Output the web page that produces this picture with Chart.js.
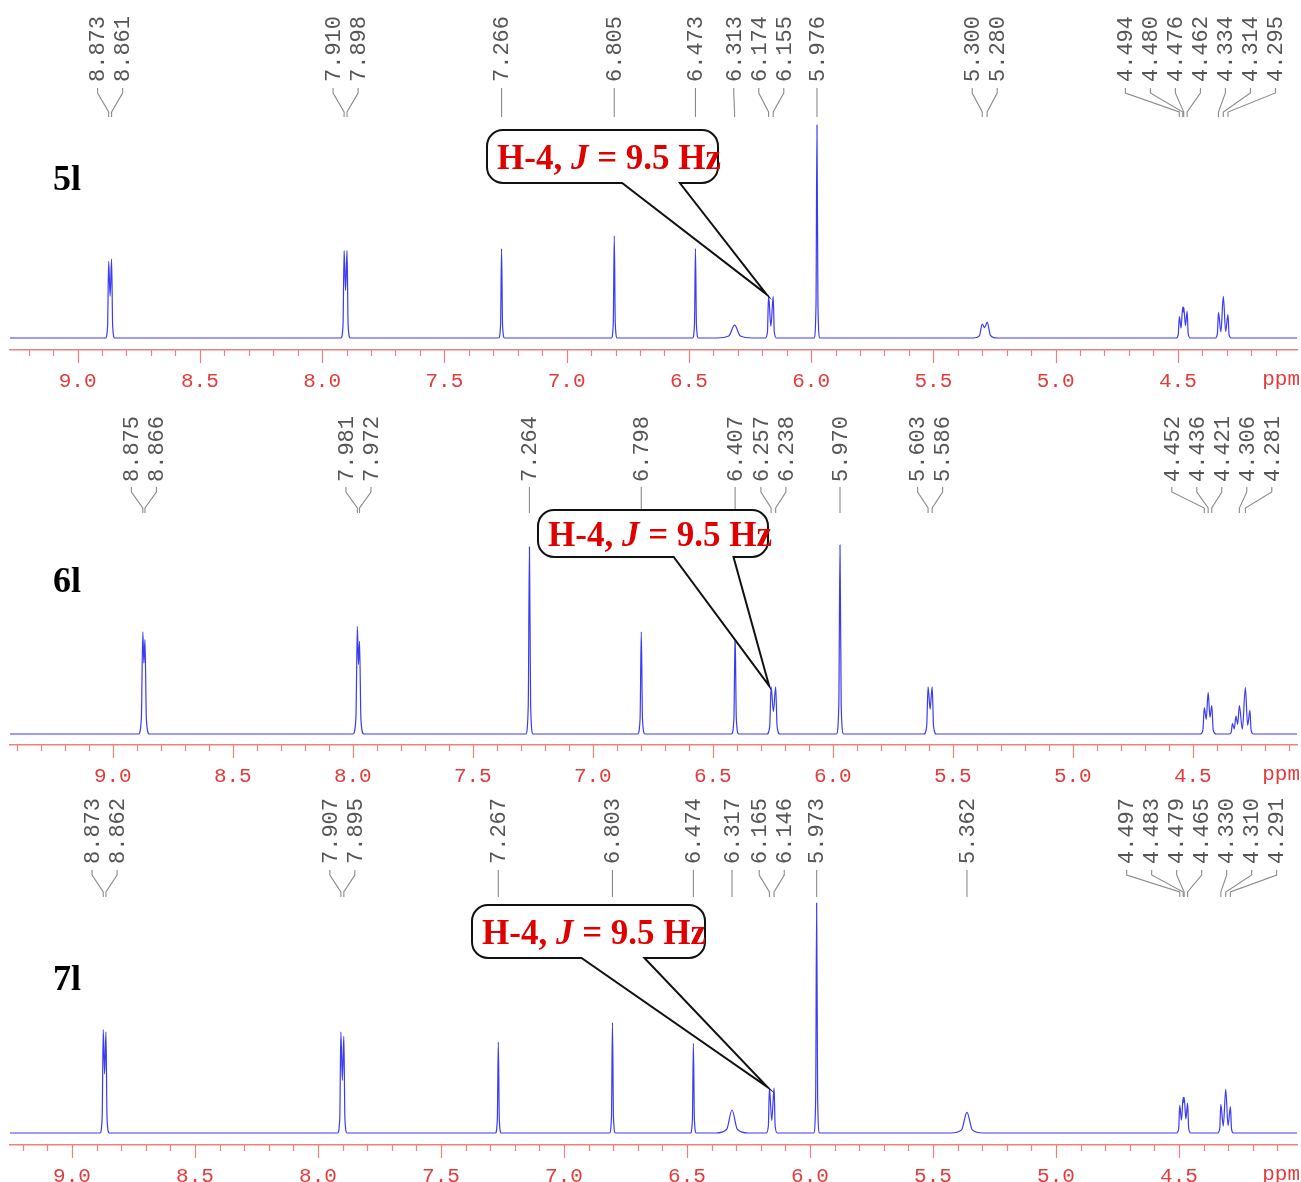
<!DOCTYPE html>
<html>
<head>
<meta charset="utf-8">
<script src="https://cdn.jsdelivr.net/npm/chart.js@4.4.1/dist/chart.umd.min.js"></script>
<style>
  body { margin: 0; background: #fff; width: 1301px; height: 1182px; overflow: hidden; position: relative; }
  canvas { position: absolute; left: 0; }
</style>
</head>
<body>
<canvas id="c5l"></canvas>
<canvas id="c6l"></canvas>
<canvas id="c7l"></canvas>
<script>
// 1H NMR, 5l / 6l / 7l (ppm, relative intensity, half-width in ppm)
const shifts5l = [8.873, 8.861, 7.910, 7.898, 7.266, 6.805, 6.473, 6.313, 6.174, 6.155, 5.976, 5.300, 5.280, 4.494, 4.480, 4.476, 4.462, 4.334, 4.314, 4.295];
const heights5l = [36, 37, 41, 41, 42, 48, 42, 6, 20, 19.5, 100, 6.5, 7.5, 10, 14.5, 14.5, 12.5, 12, 19.5, 11];
const widths5l = [.0022, .0022, .0022, .0022, .002, .002, .002, .012, .0022, .0022, .002, .006, .007, .0022, .0022, .0022, .0022, .0022, .0022, .0022];
const picks5l = [8.873, 8.861, 7.910, 7.898, 7.266, 6.805, 6.473, 6.313, 6.174, 6.155, 5.976, 5.300, 5.280, 4.494, 4.480, 4.476, 4.462, 4.334, 4.314, 4.295];

const shifts6l = [8.875, 8.866, 7.981, 7.972, 7.264, 6.798, 6.407, 6.257, 6.238, 5.970, 5.603, 5.586, 4.452, 4.436, 4.421, 4.335, 4.320, 4.306, 4.281, 4.262];
const heights6l = [54, 50, 57, 49, 99, 54, 53.5, 25, 25, 100, 25, 25, 14, 22, 15, 5.5, 9.5, 15, 24.5, 12.5];
const widths6l = [.003, .003, .003, .003, .0025, .0025, .0025, .003, .003, .0025, .003, .003, .003, .003, .003, .0025, .0025, .0025, .0025, .0025];
const picks6l = [8.875, 8.866, 7.981, 7.972, 7.264, 6.798, 6.407, 6.257, 6.238, 5.970, 5.603, 5.586, 4.452, 4.436, 4.421, 4.306, 4.281];

const shifts7l = [8.873, 8.862, 7.907, 7.895, 7.267, 6.803, 6.474, 6.317, 6.165, 6.146, 5.973, 5.362, 4.497, 4.483, 4.479, 4.465, 4.330, 4.310, 4.291];
const heights7l = [45, 44, 44, 42, 39.5, 48, 39, 10, 19.5, 19.5, 100, 9, 12, 15.5, 15.5, 13, 12.5, 19, 11.5];
const widths7l = [.0022, .0022, .0022, .0022, .002, .002, .002, .011, .0022, .0022, .002, .011, .0022, .0022, .0022, .0022, .0022, .0022, .0022];
const picks7l = [8.873, 8.862, 7.907, 7.895, 7.267, 6.803, 6.474, 6.317, 6.165, 6.146, 5.973, 5.362, 4.497, 4.483, 4.479, 4.465, 4.330, 4.310, 4.291];

const SPEC_BLUE = '#3b3bf5';
const AXIS_RED = '#f08080';
const TICK_RED = '#e23c3c';
const CALLOUT = 'H-4, J = 9.5 Hz';

// layout of the three stacked panels (canvas-local pixels)
const panels = [
  { id: 'c5l', name: '5l', top: 0, height: 392, shifts: shifts5l, heights: heights5l, widths: widths5l, picks: picks5l, h4: 6.174,
    x9: 77.6, ppx: 244.5, axisY: 350, baseY: 338, peakTopY: 125, labelBottom: 82, bracketTop: 88, bracketBottom: 117, sampleY: 190,
    box: { l: 487, r: 718, t: 130, b: 183, tail: [0.585, 0.835] } },
  { id: 'c6l', name: '6l', top: 392, height: 394, shifts: shifts6l, heights: heights6l, widths: widths6l, picks: picks6l, h4: 6.257,
    x9: 112.8, ppx: 240, axisY: 353, baseY: 342, peakTopY: 153, labelBottom: 90, bracketTop: 95, bracketBottom: 121, sampleY: 200,
    box: { l: 538, r: 768, t: 118, b: 165, tail: [0.59, 0.85] } },
  { id: 'c7l', name: '7l', top: 786, height: 396, shifts: shifts7l, heights: heights7l, widths: widths7l, picks: picks7l, h4: 6.165,
    x9: 72, ppx: 246, axisY: 359, baseY: 347, peakTopY: 117, labelBottom: 78, bracketTop: 84, bracketBottom: 111, sampleY: 204,
    box: { l: 472, r: 705, t: 119, b: 172, tail: [0.47, 0.74] } }
];

// spectrum trace from the line list: skirts, tops and dips between close lines
function buildTrace(pos, ints, lws, lo, hi) {
  const pk = pos.map((p, i) => ({ p, h: ints[i], w: lws[i] })).sort((a, b) => b.p - a.p);
  const clusters = [];
  pk.forEach(k => {
    const last = clusters[clusters.length - 1];
    const prev = last && last[last.length - 1];
    if (prev && prev.p - k.p <= 6 * (prev.w + k.w)) last.push(k); else clusters.push([k]);
  });
  const pts = [{ x: hi, y: 0 }];
  clusters.forEach(c => {
    const f = c[0], l = c[c.length - 1];
    pts.push({ x: f.p + 6 * f.w, y: 0 }, { x: f.p + 2 * f.w, y: 0.15 * f.h });
    c.forEach((k, i) => {
      pts.push({ x: k.p, y: k.h });
      const n = c[i + 1];
      if (n) {
        const dip = Math.max(0.05, 1 - (k.p - n.p) / (6 * (k.w + n.w)));
        pts.push({ x: (k.p + n.p) / 2, y: dip * Math.min(k.h, n.h) });
      }
    });
    pts.push({ x: l.p - 2 * l.w, y: 0.15 * l.h }, { x: l.p - 6 * l.w, y: 0 });
  });
  pts.push({ x: lo, y: 0 });
  return pts;
}

// spread overlapping peak labels to a minimum gap, keeping each group centred
function spread(xs, gap) {
  let groups = xs.map(x => ({ xs: [x], c: x }));
  let merged = true;
  while (merged) {
    merged = false;
    for (let i = 0; i < groups.length - 1; i++) {
      const a = groups[i], b = groups[i + 1];
      const aEnd = a.c + (a.xs.length - 1) / 2 * gap;
      const bStart = b.c - (b.xs.length - 1) / 2 * gap;
      if (bStart - aEnd < gap - 0.01) {
        const all = a.xs.concat(b.xs);
        groups.splice(i, 2, { xs: all, c: all.reduce((s, v) => s + v, 0) / all.length });
        merged = true;
        break;
      }
    }
  }
  const out = [];
  groups.forEach(g => g.xs.forEach((_, i) => out.push(g.c + (i - (g.xs.length - 1) / 2) * gap)));
  return out;
}

function drawCallout(ctx, box, tip) {
  const rad = 16;
  const { l, r, t, b } = box;
  const tl = l + (r - l) * box.tail[0], tr = l + (r - l) * box.tail[1];
  ctx.beginPath();
  ctx.moveTo(l + rad, t);
  ctx.lineTo(r - rad, t);
  ctx.arcTo(r, t, r, t + rad, rad);
  ctx.lineTo(r, b - rad);
  ctx.arcTo(r, b, r - rad, b, rad);
  ctx.lineTo(tr, b);
  ctx.lineTo(tip.x, tip.y);
  ctx.lineTo(tl, b);
  ctx.lineTo(l + rad, b);
  ctx.arcTo(l, b, l, b - rad, rad);
  ctx.lineTo(l, t + rad);
  ctx.arcTo(l, t, l + rad, t, rad);
  ctx.closePath();
  ctx.fillStyle = '#fff';
  ctx.fill();
  ctx.strokeStyle = '#111';
  ctx.lineWidth = 2;
  ctx.stroke();

  // "H-4, J = 9.5 Hz" with italic J
  const parts = [['H-4, ', 'bold'], ['J', 'italic bold'], [' = 9.5 Hz', 'bold']];
  let x = l + 10;
  const y = (t + b) / 2 + 12;
  ctx.fillStyle = '#e00000';
  ctx.textAlign = 'left';
  ctx.textBaseline = 'alphabetic';
  parts.forEach(([s, st]) => {
    ctx.font = st + ' 35px "Liberation Serif"';
    ctx.fillText(s, x, y);
    x += ctx.measureText(s).width;
  });
}

panels.forEach(cfg => {
  const H = cfg.height;
  const canvas = document.getElementById(cfg.id);
  canvas.width = 1301;
  canvas.height = H;
  canvas.style.top = cfg.top + 'px';

  const left = 10, right = 1297, areaTop = 20;
  const xMax = 9 + (cfg.x9 - left) / cfg.ppx;
  const xMin = 9 - (right - cfg.x9) / cfg.ppx;
  const ppu = (cfg.baseY - cfg.peakTopY) / 100;
  const yMin = -(cfg.axisY - cfg.baseY) / ppu;
  const yMax = yMin + (cfg.axisY - areaTop) / ppu;

  const overlay = {
    id: 'overlay' + cfg.name,
    afterDraw(chart) {
      const ctx = chart.ctx, xs = chart.scales.x, ys = chart.scales.y;
      ctx.save();

      // axis tick marks: long every 0.5 ppm, short every 0.1 ppm
      ctx.strokeStyle = AXIS_RED;
      ctx.lineWidth = 1.2;
      xs.ticks.forEach(t => {
        const px = Math.round(xs.getPixelForValue(t.value)) + 0.5;
        const major = Math.abs(t.value * 2 - Math.round(t.value * 2)) < 1e-6;
        ctx.beginPath();
        ctx.moveTo(px, cfg.axisY);
        ctx.lineTo(px, cfg.axisY + (major ? 13 : 6));
        ctx.stroke();
      });
      ctx.fillStyle = TICK_RED;
      ctx.font = '21px "Liberation Mono"';
      ctx.textAlign = 'right';
      ctx.textBaseline = 'top';
      ctx.fillText('ppm', 1300, cfg.axisY + 19);

      // peak picking labels
      const pk = cfg.picks.map(v => ({ v, x: xs.getPixelForValue(v) }));
      const lx = spread(pk.map(p => p.x), 25);
      ctx.strokeStyle = '#8a8a8a';
      ctx.lineWidth = 1.1;
      ctx.fillStyle = '#555';
      ctx.font = '22px "Liberation Mono"';
      pk.forEach((p, i) => {
        const a = lx[i];
        ctx.beginPath();
        ctx.moveTo(a, cfg.bracketTop);
        ctx.lineTo(a, cfg.bracketTop + 5);
        ctx.lineTo(p.x, cfg.bracketBottom - 5);
        ctx.lineTo(p.x, cfg.bracketBottom);
        ctx.stroke();
        ctx.save();
        ctx.translate(a, cfg.labelBottom);
        ctx.rotate(-Math.PI / 2);
        ctx.textAlign = 'left';
        ctx.textBaseline = 'middle';
        ctx.fillText(p.v.toFixed(3), 0, 1);
        ctx.restore();
      });

      // compound label
      ctx.fillStyle = '#000';
      ctx.font = 'bold 36px "Liberation Serif"';
      ctx.textAlign = 'left';
      ctx.textBaseline = 'alphabetic';
      ctx.fillText(cfg.name, 53, cfg.sampleY);

      // H-4 callout pointing at the doublet
      const k = cfg.shifts.indexOf(cfg.h4);
      const tip = { x: xs.getPixelForValue(cfg.h4) - 2, y: ys.getPixelForValue(cfg.heights[k]) - 1 };
      drawCallout(ctx, cfg.box, tip);
      ctx.restore();
    }
  };

  new Chart(canvas, {
    type: 'line',
    data: {
      datasets: [{
        data: buildTrace(cfg.shifts, cfg.heights, cfg.widths, xMin, xMax),
        borderColor: SPEC_BLUE,
        borderWidth: 1.2,
        pointRadius: 0,
        cubicInterpolationMode: 'monotone',
        clip: false
      }]
    },
    options: {
      responsive: false,
      animation: false,
      events: [],
      layout: { padding: { left: left, right: 1301 - right, top: areaTop, bottom: 0 } },
      plugins: { legend: { display: false }, tooltip: { enabled: false } },
      scales: {
        x: {
          type: 'linear',
          reverse: true,
          min: xMin,
          max: xMax,
          afterFit: s => { s.height = H - cfg.axisY; },
          border: { display: true, color: AXIS_RED, width: 1.5 },
          grid: { display: true, drawOnChartArea: false, drawTicks: true, tickLength: 14, tickColor: 'rgba(0,0,0,0)' },
          ticks: {
            stepSize: 0.1,
            autoSkip: false,
            includeBounds: false,
            maxRotation: 0,
            minRotation: 0,
            padding: 5,
            color: TICK_RED,
            font: { family: 'Liberation Mono', size: 21 },
            callback: v => {
              const r = Math.round(v * 10) / 10;
              return (Math.abs(r * 2 - Math.round(r * 2)) < 1e-6 && r >= 4.5) ? r.toFixed(1) : '';
            }
          }
        },
        y: { display: false, min: yMin, max: yMax }
      }
    },
    plugins: [overlay]
  });
});
</script>
</body>
</html>
